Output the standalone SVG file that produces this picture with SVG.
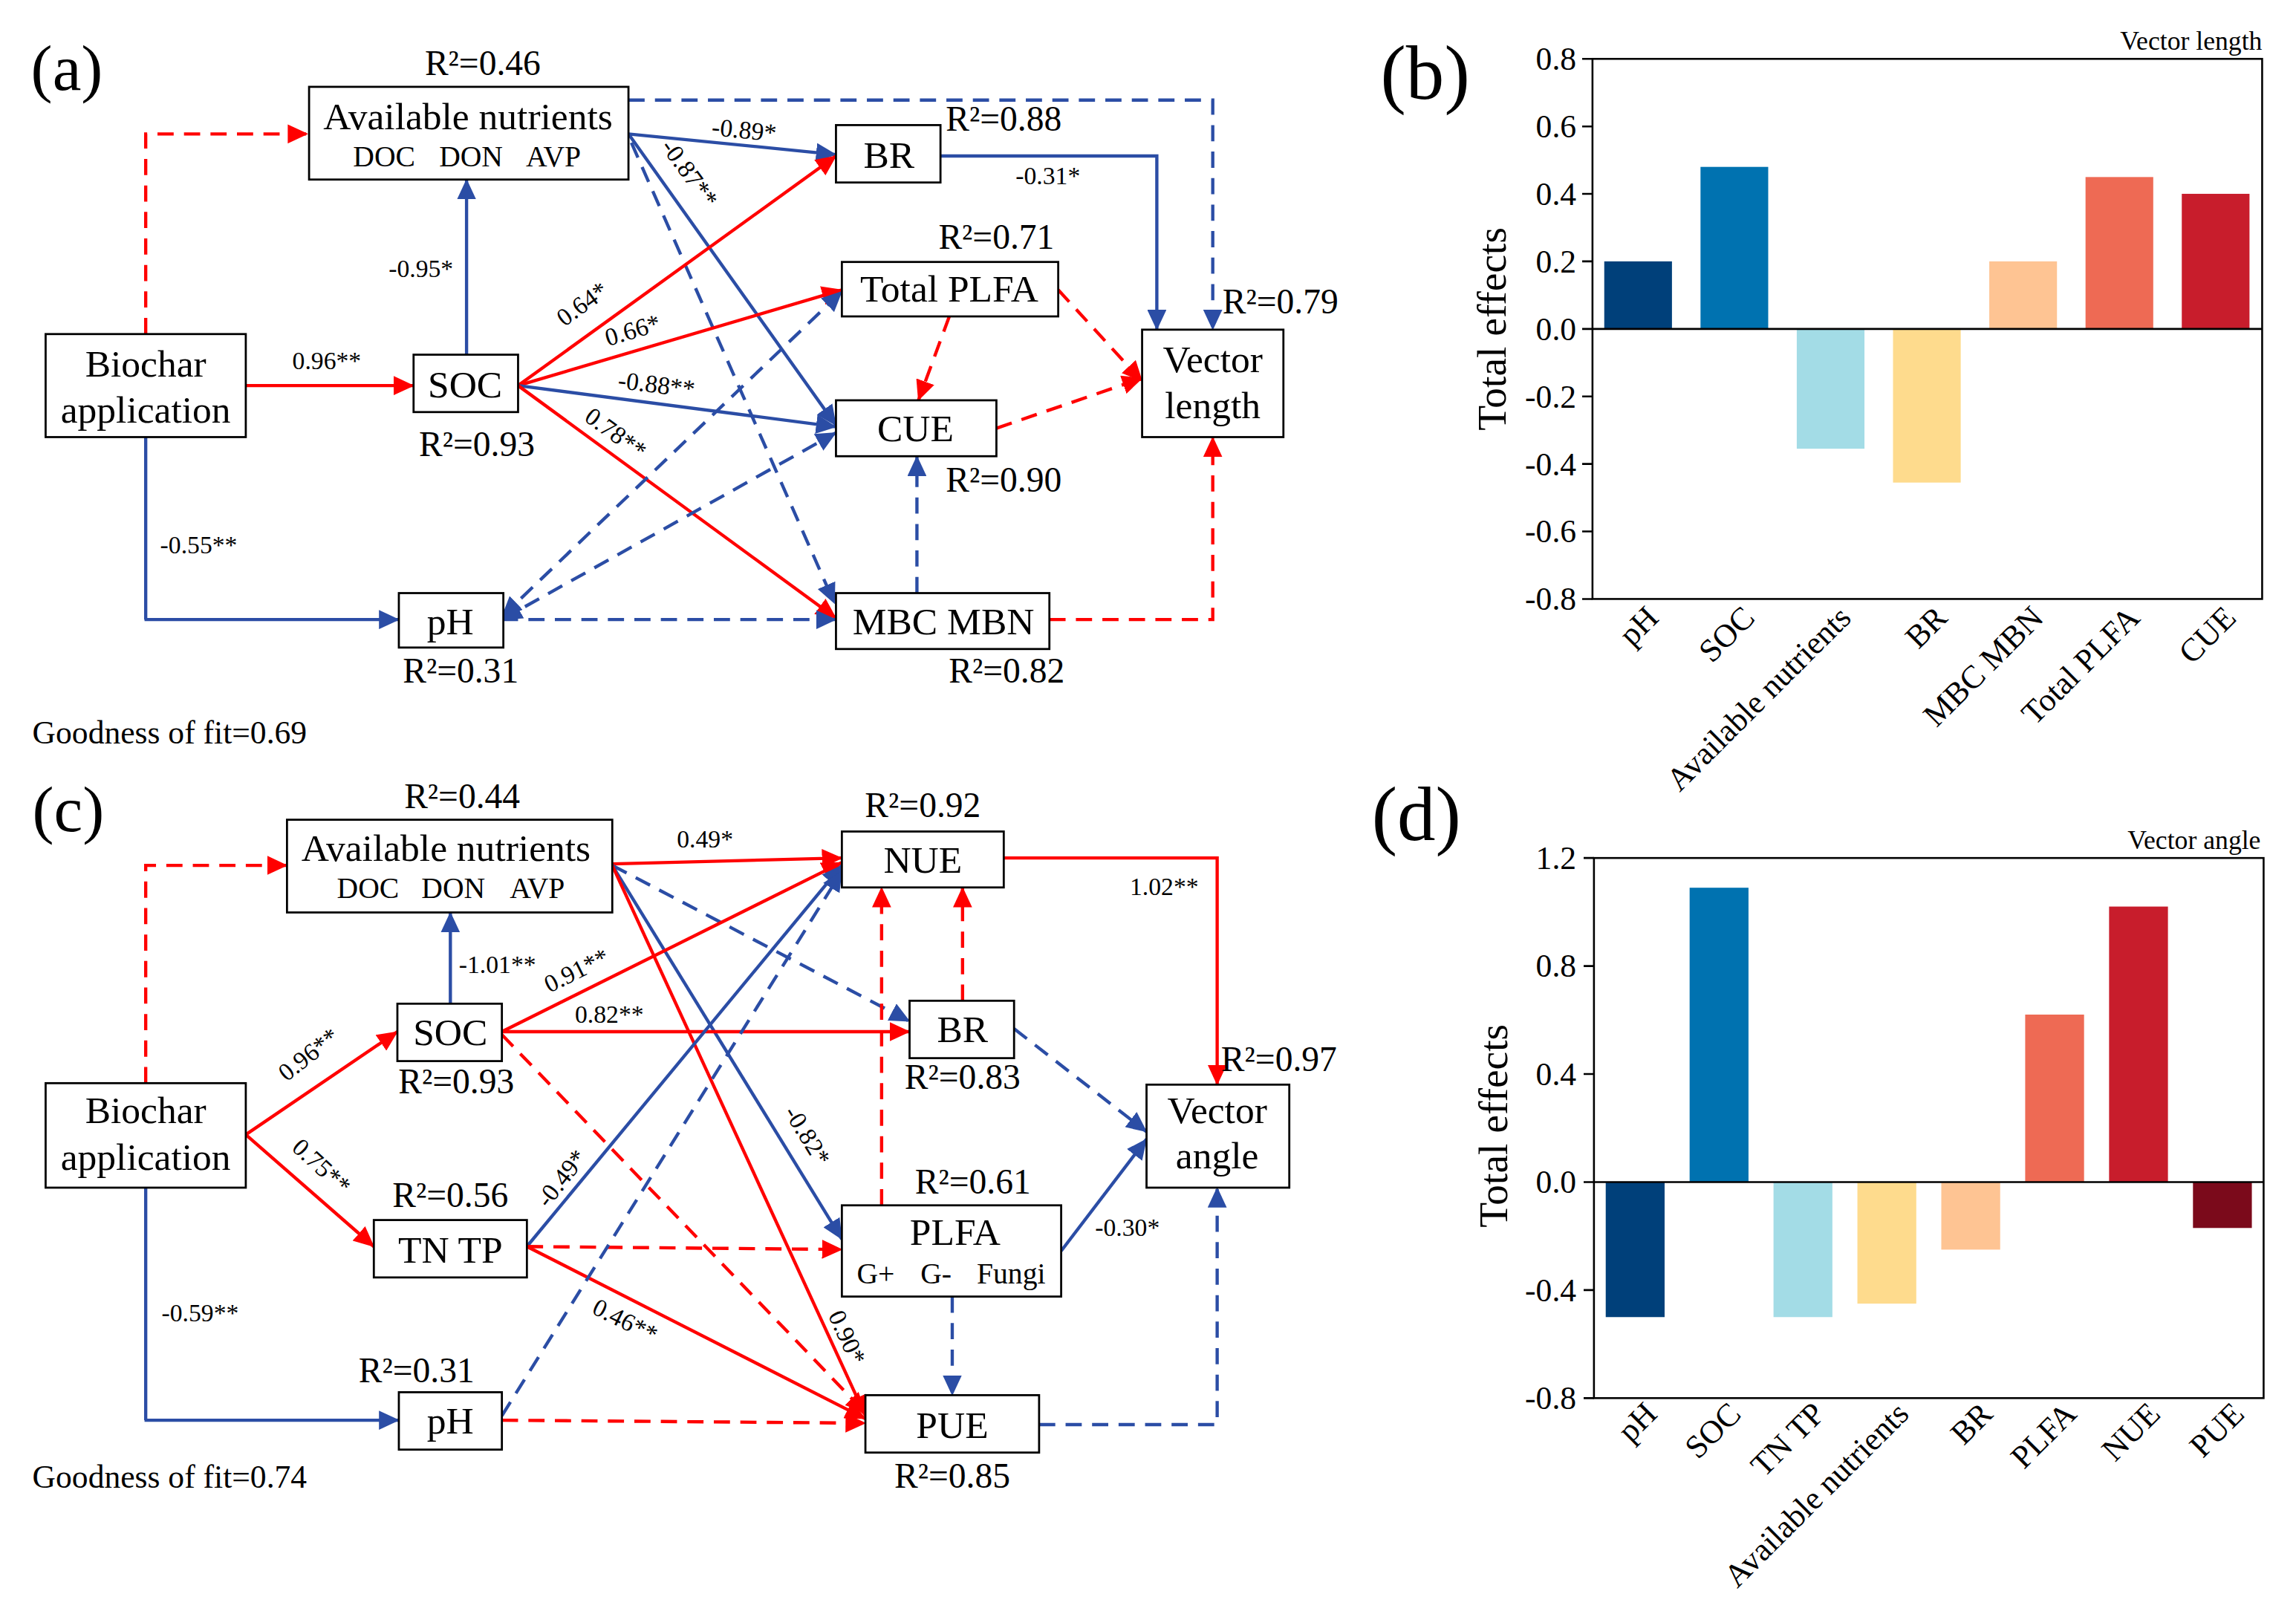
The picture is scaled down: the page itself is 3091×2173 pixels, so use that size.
<svg xmlns="http://www.w3.org/2000/svg" width="3091" height="2173" viewBox="0 0 3091 2173">
<style>
.t{font-family:"Liberation Serif","Times New Roman",serif;fill:#000}
.n{font-size:26px;text-anchor:middle}
.s{font-size:20px;text-anchor:middle}
.r{font-size:24px;text-anchor:middle}
.c{font-size:17px;text-anchor:middle}
.k{font-size:22px;text-anchor:end}
.x{font-size:22px;text-anchor:end}
.box{fill:#fff;stroke:#000;stroke-width:1.4}
.red{stroke:#FF0000;fill:none;stroke-width:2.2}
.blue{stroke:#2B4DA5;fill:none;stroke-width:2.2}
.d{stroke-dasharray:11 7}
.er{marker-end:url(#ar)}
.eb{marker-end:url(#ab)}
.sb{marker-start:url(#ab)}
.ax{stroke:#000;stroke-width:1.3;fill:none}
</style>
<defs>
<marker id="ar" viewBox="0 0 14 13" refX="13.5" refY="6.5" markerWidth="14" markerHeight="13" orient="auto-start-reverse" markerUnits="userSpaceOnUse"><path d="M0,0 L14,6.5 L0,13 z" fill="#FF0000"/></marker>
<marker id="ab" viewBox="0 0 14 13" refX="13.5" refY="6.5" markerWidth="14" markerHeight="13" orient="auto-start-reverse" markerUnits="userSpaceOnUse"><path d="M0,0 L14,6.5 L0,13 z" fill="#2B4DA5"/></marker>
</defs>
<rect width="3091" height="2173" fill="#fff"/>
<g transform="scale(1.98141)">

<!-- ================= Panel (a) ================= -->
<g id="panel-a">
<text class="t" x="21" y="61" font-size="44">(a)</text>
<g id="connectors-a">
<path class="red d er" d="M99,227 V91 H209"/>
<path class="red er" stroke-width="2.8" d="M167,262 H281"/>
<path class="blue eb" stroke-width="2.6" d="M317,241 V122"/>
<path class="blue" stroke-width="1.6" d="M99,297 V421"/>
<path class="blue eb" stroke-width="3" d="M98.2,421 H271"/>
<path class="blue eb" d="M427,91 L568,105"/>
<path class="blue eb" stroke-width="2" d="M427,91 L568,289"/>
<path class="blue d eb" stroke-width="2" d="M429,97 L567,410"/>
<path class="blue d eb" d="M427,68 H824 V224"/>
<path class="red er" d="M352,262 L568,106"/>
<path class="red er" stroke-width="2.4" d="M352,262 L572,197"/>
<path class="blue eb" stroke-width="2.6" d="M352,262 L568,290"/>
<path class="red er" stroke-width="2" d="M352,262 L568,420"/>
<path class="blue d eb sb" stroke-width="2" d="M341,419 L572,198"/>
<path class="blue d eb sb" stroke-width="2" d="M341,421 L568,294"/>
<path class="blue d eb" stroke-width="2.6" d="M341,421 H568"/>
<path class="blue eb" d="M639,106 H786 V224"/>
<path class="red d er" d="M645,215 L624,272"/>
<path class="red d er" d="M719,197 L776,259"/>
<path class="red d er" stroke-width="2.4" d="M677,291 L776,257"/>
<path class="blue d eb" stroke-width="1.8" d="M623,403 V310"/>
<path class="red d er" d="M713,421 H824 V297"/>
<!-- coefficient labels -->
<text class="t c" x="222" y="251">0.96**</text>
<text class="t c" x="286" y="188">-0.95*</text>
<text class="t c" x="135" y="376">-0.55**</text>
<text class="t c" transform="translate(505.5,89) rotate(5.7)" y="5">-0.89*</text>
<text class="t c" transform="translate(468,118) rotate(54)" y="5">-0.87**</text>
<text class="t c" transform="translate(396,207) rotate(-36)" y="5">0.64*</text>
<text class="t c" transform="translate(430,225) rotate(-16.6)" y="5">0.66*</text>
<text class="t c" transform="translate(446,262) rotate(7)" y="5">-0.88**</text>
<text class="t c" transform="translate(418,295) rotate(36)" y="5">0.78**</text>
<text class="t c" x="712" y="125">-0.31*</text>
</g>
<g id="a-available">
<rect class="box" x="210" y="59" width="217" height="63"/>
<text class="t n" x="318" y="88">Available nutrients</text>
<text class="t s" x="261" y="113">DOC</text>
<text class="t s" x="320" y="113">DON</text>
<text class="t s" x="376" y="113">AVP</text>
<text class="t r" x="328" y="51">R²=0.46</text>
</g>
<g id="a-br">
<rect class="box" x="568" y="85" width="71" height="39"/>
<text class="t n" x="604" y="114">BR</text>
<text class="t r" x="682" y="89">R²=0.88</text>
</g>
<g id="a-totalplfa">
<rect class="box" x="572" y="178" width="147" height="37"/>
<text class="t n" x="645" y="205">Total PLFA</text>
<text class="t r" x="677" y="169">R²=0.71</text>
</g>
<g id="a-vector-length">
<rect class="box" x="776" y="224" width="96" height="73"/>
<text class="t n" x="824" y="253">Vector</text>
<text class="t n" x="824" y="284">length</text>
<text class="t r" x="870" y="213">R²=0.79</text>
</g>
<g id="a-cue">
<rect class="box" x="568" y="272" width="109" height="38"/>
<text class="t n" x="622" y="300">CUE</text>
<text class="t r" x="682" y="334">R²=0.90</text>
</g>
<g id="a-soc">
<rect class="box" x="281" y="241" width="71" height="39"/>
<text class="t n" x="316" y="270">SOC</text>
<text class="t r" x="324" y="310">R²=0.93</text>
</g>
<g id="a-biochar">
<rect class="box" x="31" y="227" width="136" height="70"/>
<text class="t n" x="99" y="256">Biochar</text>
<text class="t n" x="99" y="287">application</text>
</g>
<g id="a-ph">
<rect class="box" x="271" y="403" width="71" height="37"/>
<text class="t n" x="306" y="431">pH</text>
<text class="t r" x="313" y="464">R²=0.31</text>
</g>
<g id="a-mbc">
<rect class="box" x="568" y="403" width="145" height="38"/>
<text class="t n" x="641" y="431">MBC MBN</text>
<text class="t r" x="684" y="464">R²=0.82</text>
</g>
<text class="t" x="22" y="505" font-size="22">Goodness of fit=0.69</text>
</g>

<!-- ================= Panel (c) ================= -->
<g id="panel-c">
<text class="t" x="22" y="565" font-size="44">(c)</text>
<g id="connectors-c">
<path class="red d er" d="M99,736 V588 H195"/>
<path class="red er" stroke-width="2.6" d="M167,771 L270,701"/>
<path class="red er" stroke-width="2.4" d="M167,771 L254,847"/>
<path class="blue" stroke-width="1.6" d="M99,807 V965"/>
<path class="blue eb" stroke-width="3" d="M98.2,965 H271"/>
<path class="blue eb" stroke-width="2.4" d="M306,682 V620"/>
<path class="red er" stroke-width="2.8" d="M416,587 L572,583"/>
<path class="blue d eb" d="M416,588 L618,694"/>
<path class="blue eb" stroke-width="2" d="M416,588 L572,842"/>
<path class="red er" stroke-width="2" d="M416,588 L588,962"/>
<path class="red er" stroke-width="2.4" d="M341,701 L572,586"/>
<path class="red er" stroke-width="2.6" d="M341,701 L618,701"/>
<path class="red d er" stroke-width="2" d="M341,703 L588,960"/>
<path class="blue eb" stroke-width="2" d="M358,847 L572,588"/>
<path class="red d er" stroke-width="2.8" d="M358,847 L572,849"/>
<path class="red er" stroke-width="2.4" d="M358,847 L588,964"/>
<path class="blue d eb" stroke-width="2" d="M341,962 L572,592"/>
<path class="red d er" stroke-width="2.8" d="M341,965 L588,967"/>
<path class="red er" stroke-width="2.4" d="M682,583 H827 V737"/>
<path class="red d er" d="M654,680 V603"/>
<path class="red d er" d="M599,819 V603"/>
<path class="blue d eb" stroke-width="2.4" d="M689,699 L779,769"/>
<path class="blue eb" d="M721,850 L779,774"/>
<path class="blue d eb" stroke-width="2" d="M647,881 V948"/>
<path class="blue d eb" stroke-width="2.6" d="M706,968 H827 V807"/>
<text class="t c" x="479" y="576">0.49*</text>
<text class="t c" x="338" y="661">-1.01**</text>
<text class="t c" transform="translate(392,660) rotate(-26.5)" y="5">0.91**</text>
<text class="t c" x="414" y="695">0.82**</text>
<text class="t c" transform="translate(210,717) rotate(-38)" y="5">0.96**</text>
<text class="t c" transform="translate(218,793) rotate(42.6)" y="5">0.75**</text>
<text class="t c" transform="translate(382,801) rotate(-52)" y="5">-0.49*</text>
<text class="t c" transform="translate(548,772) rotate(58.4)" y="5">-0.82*</text>
<text class="t c" transform="translate(575,909) rotate(65.3)" y="5">0.90*</text>
<text class="t c" transform="translate(424.5,898) rotate(26.6)" y="5">0.46**</text>
<text class="t c" x="136" y="898">-0.59**</text>
<text class="t c" x="791" y="608">1.02**</text>
<text class="t c" x="766" y="840">-0.30*</text>
</g>
<g id="c-available">
<rect class="box" x="195" y="557" width="221" height="63"/>
<text class="t n" x="303" y="585">Available nutrients</text>
<text class="t s" x="250" y="610">DOC</text>
<text class="t s" x="308" y="610">DON</text>
<text class="t s" x="365" y="610">AVP</text>
<text class="t r" x="314" y="549">R²=0.44</text>
</g>
<g id="c-nue">
<rect class="box" x="572" y="565" width="110" height="38"/>
<text class="t n" x="627" y="593">NUE</text>
<text class="t r" x="627" y="555">R²=0.92</text>
</g>
<g id="c-soc">
<rect class="box" x="270" y="682" width="71" height="39"/>
<text class="t n" x="306" y="710">SOC</text>
<text class="t r" x="310" y="743">R²=0.93</text>
</g>
<g id="c-br">
<rect class="box" x="618" y="680" width="71" height="39"/>
<text class="t n" x="654" y="708">BR</text>
<text class="t r" x="654" y="740">R²=0.83</text>
</g>
<g id="c-biochar">
<rect class="box" x="31" y="736" width="136" height="71"/>
<text class="t n" x="99" y="763">Biochar</text>
<text class="t n" x="99" y="795">application</text>
</g>
<g id="c-vector-angle">
<rect class="box" x="779" y="737" width="97" height="70"/>
<text class="t n" x="827" y="763">Vector</text>
<text class="t n" x="827" y="794">angle</text>
<text class="t r" x="869" y="728">R²=0.97</text>
</g>
<g id="c-tntp">
<rect class="box" x="254" y="829" width="104" height="39"/>
<text class="t n" x="306" y="858">TN TP</text>
<text class="t r" x="306" y="820">R²=0.56</text>
</g>
<g id="c-plfa">
<rect class="box" x="572" y="819" width="149" height="62"/>
<text class="t n" x="649" y="846">PLFA</text>
<text class="t s" x="595" y="872">G+</text>
<text class="t s" x="636" y="872">G-</text>
<text class="t s" x="687" y="872">Fungi</text>
<text class="t r" x="661" y="811">R²=0.61</text>
</g>
<g id="c-ph">
<rect class="box" x="271" y="946" width="70" height="39"/>
<text class="t n" x="306" y="974">pH</text>
<text class="t r" x="283" y="939">R²=0.31</text>
</g>
<g id="c-pue">
<rect class="box" x="588" y="948" width="118" height="39"/>
<text class="t n" x="647" y="977">PUE</text>
<text class="t r" x="647" y="1011">R²=0.85</text>
</g>
<text class="t" x="22" y="1011" font-size="22">Goodness of fit=0.74</text>
</g>

<!-- ================= Panel (b) ================= -->
<g id="panel-b">
<text class="t" x="938" y="67" font-size="52">(b)</text>
<rect x="1090" y="177.6" width="46" height="45.9" fill="#00407A"/>
<rect x="1155.4" y="113.4" width="46" height="110.1" fill="#0072B0"/>
<rect x="1220.8" y="223.5" width="46" height="81.4" fill="#A3DCE6"/>
<rect x="1286.2" y="223.5" width="46" height="104.4" fill="#FEDB8D"/>
<rect x="1351.6" y="177.6" width="46" height="45.9" fill="#FEC493"/>
<rect x="1417" y="120.3" width="46" height="103.2" fill="#EE6A54"/>
<rect x="1482.4" y="131.7" width="46" height="91.8" fill="#C81D2C"/>
<rect class="ax" x="1082" y="40" width="455" height="367"/>
<line class="ax" x1="1082" y1="223.5" x2="1537" y2="223.5"/>
<path class="ax" d="M1075,40 H1082 M1075,85.9 H1082 M1075,131.75 H1082 M1075,177.6 H1082 M1075,223.5 H1082 M1075,269.4 H1082 M1075,315.25 H1082 M1075,361.1 H1082 M1075,407 H1082"/>
<text class="t k" x="1071" y="47.5">0.8</text>
<text class="t k" x="1071" y="93.4">0.6</text>
<text class="t k" x="1071" y="139.3">0.4</text>
<text class="t k" x="1071" y="185.1">0.2</text>
<text class="t k" x="1071" y="231">0.0</text>
<text class="t k" x="1071" y="276.9">-0.2</text>
<text class="t k" x="1071" y="322.8">-0.4</text>
<text class="t k" x="1071" y="368.6">-0.6</text>
<text class="t k" x="1071" y="414.5">-0.8</text>
<text class="t" font-size="28" text-anchor="middle" transform="translate(1023,223.5) rotate(-90)">Total effects</text>
<text class="t" font-size="18" text-anchor="end" x="1537" y="34">Vector length</text>
<text class="t x" transform="translate(1128,421) rotate(-45)">pH</text>
<text class="t x" transform="translate(1193.4,421) rotate(-45)">SOC</text>
<text class="t x" transform="translate(1258.8,421) rotate(-45)">Available nutrients</text>
<text class="t x" transform="translate(1324.2,421) rotate(-45)">BR</text>
<text class="t x" transform="translate(1389.6,421) rotate(-45)">MBC MBN</text>
<text class="t x" transform="translate(1455,421) rotate(-45)">Total PLFA</text>
<text class="t x" transform="translate(1520.4,421) rotate(-45)">CUE</text>
</g>

<!-- ================= Panel (d) ================= -->
<g id="panel-d">
<text class="t" x="932" y="571" font-size="52">(d)</text>
<rect x="1091" y="803.2" width="40" height="91.75" fill="#00407A"/>
<rect x="1148" y="603.2" width="40" height="200" fill="#0072B0"/>
<rect x="1205" y="803.2" width="40" height="91.75" fill="#A3DCE6"/>
<rect x="1262" y="803.2" width="40" height="82.6" fill="#FEDB8D"/>
<rect x="1319" y="803.2" width="40" height="45.9" fill="#FEC493"/>
<rect x="1376" y="689.4" width="40" height="113.8" fill="#EE6A54"/>
<rect x="1433" y="616" width="40" height="187.2" fill="#C81D2C"/>
<rect x="1490" y="803.2" width="40" height="31.2" fill="#7B0A1B"/>
<rect class="ax" x="1083" y="583" width="455" height="367"/>
<line class="ax" x1="1083" y1="803.2" x2="1538" y2="803.2"/>
<path class="ax" d="M1076,583 H1083 M1076,656.4 H1083 M1076,729.8 H1083 M1076,803.2 H1083 M1076,876.6 H1083 M1076,950 H1083"/>
<text class="t k" x="1071" y="590.5">1.2</text>
<text class="t k" x="1071" y="663.9">0.8</text>
<text class="t k" x="1071" y="737.3">0.4</text>
<text class="t k" x="1071" y="810.7">0.0</text>
<text class="t k" x="1071" y="884.1">-0.4</text>
<text class="t k" x="1071" y="957.5">-0.8</text>
<text class="t" font-size="28" text-anchor="middle" transform="translate(1024,765) rotate(-90)">Total effects</text>
<text class="t" font-size="18" text-anchor="end" x="1536" y="577">Vector angle</text>
<text class="t x" transform="translate(1127,962) rotate(-45)">pH</text>
<text class="t x" transform="translate(1184,962) rotate(-45)">SOC</text>
<text class="t x" transform="translate(1241,962) rotate(-45)">TN TP</text>
<text class="t x" transform="translate(1298,962) rotate(-45)">Available nutrients</text>
<text class="t x" transform="translate(1355,962) rotate(-45)">BR</text>
<text class="t x" transform="translate(1412,962) rotate(-45)">PLFA</text>
<text class="t x" transform="translate(1469,962) rotate(-45)">NUE</text>
<text class="t x" transform="translate(1526,962) rotate(-45)">PUE</text>
</g>
</g>
</svg>
